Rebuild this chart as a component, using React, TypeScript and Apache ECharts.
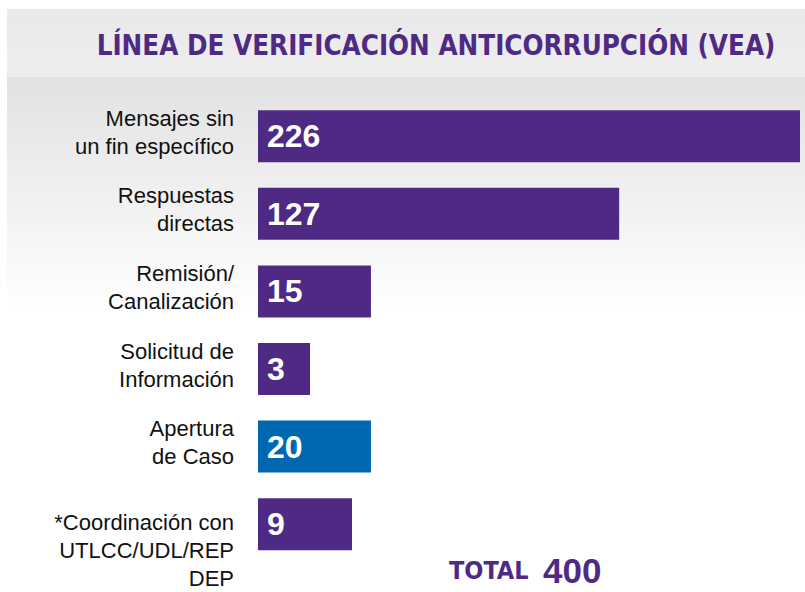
import React, { useEffect, useRef } from "react";
import * as echarts from "echarts";

// Category names (top to bottom)
const categories = [
  "Mensajes sin\nun fin específico",
  "Respuestas\ndirectas",
  "Remisión/\nCanalización",
  "Solicitud de\nInformación",
  "Apertura\nde Caso",
  "*Coordinación con\nUTLCC/UDL/REP\nDEP",
];
// Counts printed on the bars
const counts = [226, 127, 15, 3, 20, 9];
// Bar lengths as drawn in the picture (not proportional to counts), in axis units
const barLengths = [226, 150.6, 47.1, 21.7, 47.1, 39.2];
// Highlighted category index (blue bar)
const highlightIndex = 4;
const titleText = "LÍNEA DE VERIFICACIÓN ANTICORRUPCIÓN (VEA)";
const totalLabel = "TOTAL";
const totalValue = "400";

const PURPLE = "#4E2A84";
const BLUE = "#0067B1";

export default function App() {
  const ref = useRef<HTMLDivElement>(null);
  useEffect(() => {
    if (!ref.current) return;
    const chart = echarts.init(ref.current, null, { renderer: "svg" });
    chart.setOption({
      animation: false,
      backgroundColor: "#ffffff",
      graphic: [
        {
          type: "rect",
          z: -10,
          shape: { x: 7, y: 9, width: 798, height: 68 },
          style: {
            fill: new echarts.graphic.LinearGradient(0, 0, 0, 1, [
              { offset: 0, color: "#E9E9E9" },
              { offset: 1, color: "#EEEEEE" },
            ]),
          },
        },
        {
          type: "rect",
          z: -10,
          shape: { x: 7, y: 77, width: 798, height: 240 },
          style: {
            fill: new echarts.graphic.LinearGradient(0, 0, 0, 1, [
              { offset: 0, color: "#E2E2E2" },
              { offset: 1, color: "#FFFFFF" },
            ]),
          },
        },
        {
          type: "text",
          z: 10,
          x: 436,
          y: 45,
          style: {
            text: titleText,
            fill: PURPLE,
            font: 'bold 27.5px "Liberation Sans Narrow", "DejaVu Sans Condensed", sans-serif',
            align: "center",
            verticalAlign: "middle",
          },
        },
        {
          type: "text",
          z: 10,
          x: 449,
          y: 583,
          style: {
            text: totalLabel,
            fill: PURPLE,
            font: 'bold 25px "Liberation Sans Narrow", "DejaVu Sans Condensed", sans-serif',
            align: "left",
            verticalAlign: "bottom",
          },
        },
        {
          type: "text",
          z: 10,
          x: 543,
          y: 588,
          style: {
            text: totalValue,
            fill: PURPLE,
            font: 'bold 35px "Liberation Sans", Arial, sans-serif',
            align: "left",
            verticalAlign: "bottom",
          },
        },
      ],
      grid: { left: 258, right: 5, top: 97.5, height: 467.4, containLabel: false },
      xAxis: {
        type: "value",
        min: 0,
        max: 226,
        show: false,
      },
      yAxis: {
        type: "category",
        inverse: true,
        data: categories,
        axisLine: { show: false },
        axisTick: { show: false },
        axisLabel: {
          interval: 0,
          hideOverlap: false,
          margin: 24,
          color: "#111111",
          fontSize: 22,
          lineHeight: 28,
          fontFamily: '"Liberation Sans", Arial, sans-serif',
          align: "right",
          formatter: (v: string, i: number) => {
            const lines = v.split("\n").map((l) => `{t|${l}}`).join("\n");
            return i === categories.length - 1
              ? `{top| }\n${lines}`
              : `${lines}\n{bot| }`;
          },
          rich: {
            t: {
              fontSize: 22,
              lineHeight: 28,
              color: "#111111",
              fontFamily: '"Liberation Sans", Arial, sans-serif',
              align: "right",
            },
            top: { fontSize: 1, lineHeight: 52, height: 52 },
            bot: { fontSize: 1, lineHeight: 8, height: 8 },
          },
        },
      },
      series: [
        {
          type: "bar",
          barWidth: 52,
          data: barLengths.map((v, i) => ({
            value: v,
            itemStyle: { color: i === highlightIndex ? BLUE : PURPLE },
            label: { formatter: String(counts[i]) },
          })),
          label: {
            show: true,
            position: "insideLeft",
            distance: 9,
            color: "#ffffff",
            fontSize: 32,
            fontWeight: "bold",
            fontFamily: '"Liberation Sans", Arial, sans-serif',
          },
        },
      ],
    });
    return () => chart.dispose();
  }, []);
  return (
    <div
      ref={ref}
      style={{ position: "absolute", left: 0, top: 0, width: 805, height: 592 }}
    />
  );
}
